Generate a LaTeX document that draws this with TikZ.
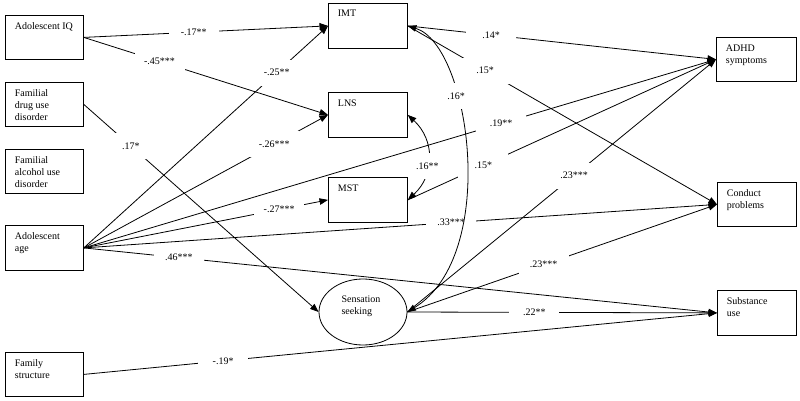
\documentclass[tikz,border=0pt]{standalone}
\usepackage{fontspec}
\setmainfont{Liberation Serif}
\usetikzlibrary{arrows.meta, shapes.geometric}

\tikzset{
  var/.style={draw, minimum width=79pt, minimum height=44pt, inner sep=0pt,
    anchor=north west},
  vtext/.style={anchor=north west, inner sep=0pt, xshift=9.5pt, yshift=-7pt,
    align=left},
  latent/.style={draw, ellipse, minimum width=88pt, minimum height=66pt,
    inner sep=0pt},
  coef/.style={fill=white, minimum width=50pt, minimum height=26pt,
    inner sep=0pt}
}

\begin{document}
\begin{tikzpicture}[x=1pt, y=-1pt, line width=0.8pt,
  >={Triangle[length=8.5pt,width=6.5pt]},
  font=\fontsize{10}{12}\selectfont]
\useasboundingbox (0,0) rectangle (800,401);

% predictors
\node[var, minimum width=78pt, label={[vtext]north west:Adolescent IQ}] (iq) at (5,15) {};
\node[var, minimum width=78pt, label={[vtext]north west:Familial\\drug use\\disorder}] (drug) at (5,82) {};
\node[var, minimum width=78pt, label={[vtext]north west:Familial\\alcohol use\\disorder}] (alc) at (5,149) {};
\node[var, minimum width=78pt, minimum height=45pt, label={[vtext]north west:Adolescent\\age}] (age) at (5,225) {};
\node[var, minimum width=78pt, label={[vtext]north west:Family\\structure}] (fam) at (5,352) {};

% mediators
\node[var, minimum height=45pt, label={[vtext]north west:IMT}] (imt) at (328,3) {};
\node[var, minimum height=45pt, label={[vtext]north west:LNS}] (lns) at (328,92) {};
\node[var, minimum height=45pt, label={[vtext]north west:MST}] (mst) at (328,177) {};
\node[latent, label={[anchor=center, align=left, xshift=-2pt, yshift=6pt]center:Sensation\\seeking}] (ss) at (363,312) {};

% outcomes
\node[var, minimum width=80pt, label={[vtext]north west:ADHD\\symptoms}] (adhd) at (716,37) {};
\node[var, label={[vtext]north west:Conduct\\problems}] (cond) at (717,182) {};
\node[var, minimum height=45pt, label={[vtext]north west:Substance\\use}] (sub) at (717,290) {};

\draw[<->] (lns.east) .. controls (435,140) and (435,175) .. (mst.east)
  node[coef, minimum width=30pt, pos=.6] {.16**};

\draw
  (iq.east) edge[->] node[coef, pos=.45] {-.17**} (imt.west)
  (iq.east) edge[->] node[coef, pos=.31] {-.45***} (lns.west)
  (drug.east) edge[->] node[coef, pos=.2] {.17*} (ss.west)
  (age.east) edge[->] node[coef, pos=.79] {-.25**} (imt.west)
  (age.east) edge[->] node[coef, pos=.78] {-.26***} (lns.west)
  (age.east) edge[->] node[coef, pos=.8] {-.27***} (mst.west)
  (age.east) edge[->] node[coef, pos=.66] {.19**} (adhd.west)
  (age.east) edge[->] node[coef, pos=.58] {.33***} (cond.west)
  (age.east) edge[->] node[coef, pos=.15] {.46***} (sub.west)
  (fam.east) edge[->] node[coef, pos=.22] {-.19*} (sub.west)
  (imt.east) edge[->] node[coef, pos=.27] {.14*} (adhd.west)
  (imt.east) edge[->] node[coef, pos=.25] {.15*} (cond.west)
  (mst.east) edge[->] node[coef, pos=.245] {.15*} (adhd.west)
  (ss.east) edge[->] node[coef, pos=.54] {.23***} (adhd.west)
  (ss.east) edge[->] node[coef, pos=.44] {.23***} (cond.west)
  (ss.east) edge[->] node[coef, pos=.41] {.22**} (sub.west)
  ;

\draw[<->] (imt.east) .. controls (470,45) and (500,255) .. (ss.east)
  node[coef, pos=.335] {.16*};
\end{tikzpicture}
\end{document}
